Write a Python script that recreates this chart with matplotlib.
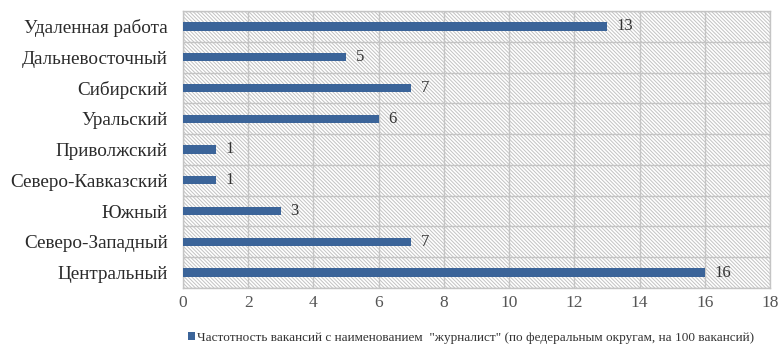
import matplotlib
matplotlib.use("Agg")
import matplotlib.pyplot as plt
from matplotlib.patches import Rectangle

plt.rcParams['font.family'] = ['Liberation Serif', 'DejaVu Serif']
plt.rcParams['hatch.linewidth'] = 0.7
plt.rcParams['hatch.color'] = '#c2c2c2'

# data
districts = ['Центральный', 'Северо-Западный', 'Южный', 'Северо-Кавказский',
             'Приволжский', 'Уральский', 'Сибирский', 'Дальневосточный',
             'Удаленная работа']
values = [16, 7, 3, 1, 1, 6, 7, 5, 13]
x_ticks = [0, 2, 4, 6, 8, 10, 12, 14, 16, 18]
legend_label = 'Частотность вакансий с наименованием  "журналист" (по федеральным округам, на 100 вакансий)'

bar_color = '#3b6499'
grid_color = '#c4c4c4'

fig = plt.figure(figsize=(7.81, 3.51), dpi=100)
ax = fig.add_axes([0.2343, 0.1795, 0.9859 - 0.2343, 0.9687 - 0.1795])

# hatched background
bg = Rectangle((0, 0), 1, 1, transform=ax.transAxes, facecolor='white',
               edgecolor='#c2c2c2', hatch='\\' * 9, linewidth=0, zorder=0)
ax.add_patch(bg)

ypos = list(range(len(districts)))
bars = ax.barh(ypos, values, height=0.27, color=bar_color, zorder=3,
               label=legend_label)

for y, v in zip(ypos, values):
    ax.text(v + 0.3, y, str(v), va='center', ha='left', fontsize=12,
            color='#333333', zorder=4)

ax.set_xlim(0, 18)
ax.set_ylim(-0.5, len(districts) - 0.5)
ax.set_xticks(x_ticks)
ax.set_yticks(ypos)
ax.set_yticklabels(districts)

# grid: vertical at ticks, horizontal between categories
for x in x_ticks:
    ax.axvline(x, color=grid_color, lw=1, zorder=1)
for i in range(len(districts) + 1):
    ax.axhline(i - 0.5, color=grid_color, lw=1, zorder=1)

for s in ax.spines.values():
    s.set_color(grid_color)
    s.set_linewidth(1)

ax.tick_params(axis='y', length=0, pad=11, labelsize=13.8, labelcolor='#2a2a2a')
ax.tick_params(axis='x', length=0, pad=5, labelsize=12.5, labelcolor='#555555')

fig.legend(handles=[bars], labels=[legend_label], loc='center left',
           bbox_to_anchor=(0.225, 0.037), frameon=False, fontsize=9.5,
           handlelength=0.55, handleheight=0.55, handletextpad=0.2,
           labelcolor='#333333')

fig.savefig('out.png', dpi=100)
